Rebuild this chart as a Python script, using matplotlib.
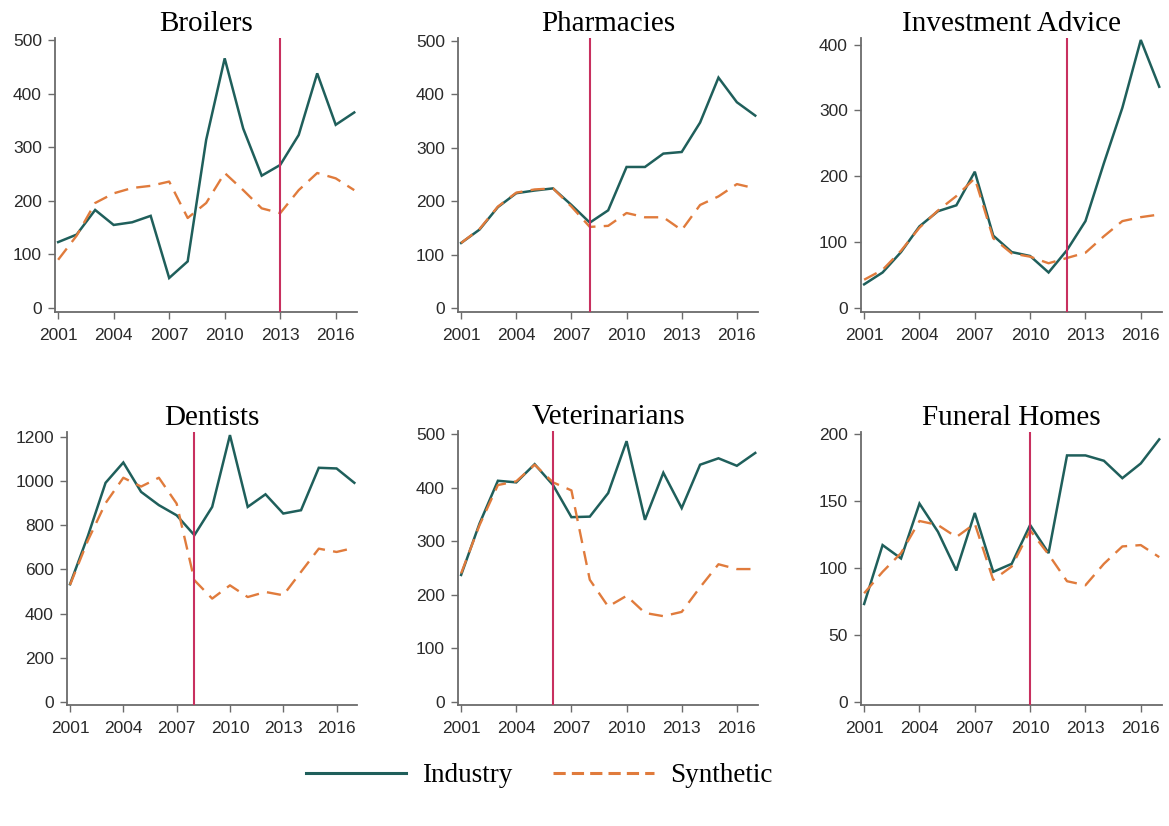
import numpy as np
import matplotlib
matplotlib.use('Agg')
import matplotlib.pyplot as plt

# years shared by every panel
years = np.arange(2001, 2018)

titles = ["Broilers", "Pharmacies", "Investment Advice",
          "Dentists", "Veterinarians", "Funeral Homes"]
treat_years = [2013, 2008, 2012, 2008, 2006, 2010]

broilers_ind = [123, 137, 183, 155, 160, 172, 56, 87, 314, 466, 335, 247, 267, 323, 438, 342, 365]
broilers_syn = [90, 135, 196, 214, 224, 228, 236, 168, 196, 252, 220, 186, 177, 220, 252, 242, 220]

pharm_ind = [122, 147, 189, 215, 220, 224, 193, 160, 183, 264, 264, 289, 292, 347, 431, 385, 360]
pharm_syn = [122, 148, 190, 216, 222, 224, 190, 152, 154, 178, 170, 170, 146, 193, 209, 232, 224]

invest_ind = [36, 54, 85, 124, 147, 156, 207, 110, 85, 79, 54, 88, 132, 220, 304, 407, 336]
invest_syn = [43, 58, 87, 122, 148, 170, 197, 106, 83, 78, 68, 76, 84, 109, 132, 138, 142]

dent_ind = [533, 750, 992, 1084, 951, 891, 845, 755, 883, 1208, 883, 940, 853, 868, 1060, 1057, 992]
dent_syn = [530, 730, 900, 1015, 975, 1015, 898, 551, 468, 528, 475, 498, 483, 589, 694, 679, 698]

vet_ind = [237, 333, 413, 410, 444, 405, 345, 346, 390, 487, 340, 428, 362, 443, 455, 441, 465]
vet_syn = [240, 330, 405, 412, 443, 410, 395, 228, 178, 198, 166, 160, 168, 214, 257, 248, 248]

fun_ind = [73, 117, 107, 148, 127, 98, 141, 97, 103, 132, 111, 184, 184, 180, 167, 178, 196]
fun_syn = [81, 97, 111, 135, 132, 123, 133, 91, 101, 128, 110, 90, 87, 103, 116, 117, 108]

industry = [broilers_ind, pharm_ind, invest_ind, dent_ind, vet_ind, fun_ind]
synthetic = [broilers_syn, pharm_syn, invest_syn, dent_syn, vet_syn, fun_syn]

xticks = [2001, 2004, 2007, 2010, 2013, 2016]
yticks = [np.arange(0, 501, 100), np.arange(0, 501, 100), np.arange(0, 401, 100),
          np.arange(0, 1201, 200), np.arange(0, 501, 100), np.arange(0, 201, 50)]

IND_COLOR = '#1f5f5b'
SYN_COLOR = '#e07b3c'
VLINE_COLOR = '#c8305f'
SPINE_COLOR = '#6b6b6b'

W, H = 1169, 826
fig = plt.figure(figsize=(W / 100, H / 100), dpi=100)

# axes boxes in pixels: left, top, right, bottom
boxes = [(55, 38, 357, 312), (458, 38, 758, 312), (861, 38, 1162, 312),
         (67, 432, 357, 705), (458, 431, 758, 705), (861, 432, 1162, 705)]
ylims = [(-7.5, 504), (-7, 505), (-6, 410), (-13.6, 1222), (-6, 506), (-2.5, 201.5)]

for i in range(6):
    l, t, r, b = boxes[i]
    ax = fig.add_axes([l / W, 1 - b / H, (r - l) / W, (b - t) / H])
    ax.plot(years, industry[i], color=IND_COLOR, lw=1.8, solid_joinstyle='miter')
    ax.plot(years, synthetic[i], color=SYN_COLOR, lw=1.7, dashes=(6, 3.5))
    ax.axvline(treat_years[i], color=VLINE_COLOR, lw=1.5, zorder=5)

    ax.set_xlim(2000.83, 2017.15)
    ax.set_ylim(*ylims[i])
    ax.set_xticks(xticks)
    ax.set_yticks(yticks[i])
    for side in ['top', 'right']:
        ax.spines[side].set_visible(False)
    for side in ['left', 'bottom']:
        ax.spines[side].set_color(SPINE_COLOR)
        ax.spines[side].set_linewidth(1.3)
    ax.tick_params(length=5, width=1.0, color=SPINE_COLOR,
                   labelsize=12.5, labelcolor='#2a2a2a')
    ax.tick_params(axis='x', pad=6.5)
    ax.tick_params(axis='y', pad=4.5)
    for lab in ax.get_xticklabels() + ax.get_yticklabels():
        lab.set_family('Liberation Sans')
    ax.set_title(titles[i], family='Liberation Serif', fontsize=21, pad=5)

handles = [plt.Line2D([], [], color=IND_COLOR, lw=2.2),
           plt.Line2D([], [], color=SYN_COLOR, lw=2.2, dashes=(4, 2))]
fig.legend(handles, ["Industry", "Synthetic"], loc='center',
           bbox_to_anchor=(539 / W, 1 - 776 / H), ncol=2, frameon=False,
           prop={'family': 'Liberation Serif', 'size': 19.5},
           handlelength=3.7, handletextpad=0.6, columnspacing=1.5)

fig.savefig('out.png', dpi=100, facecolor='white')
